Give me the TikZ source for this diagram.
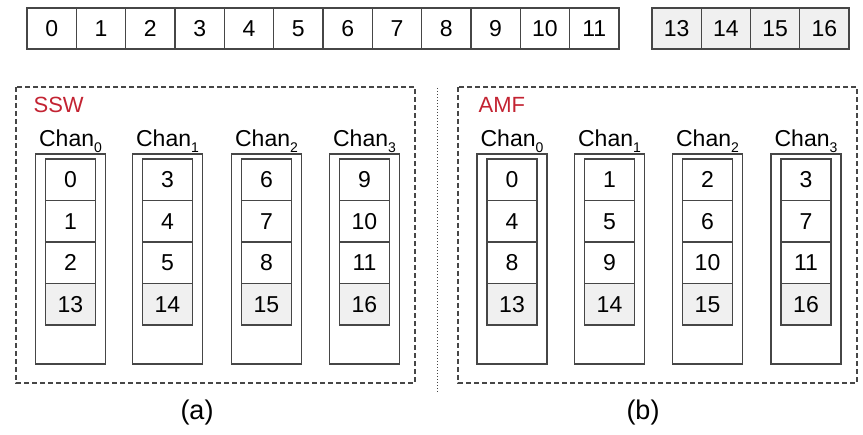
\documentclass[tikz,border=0pt]{standalone}
\usepackage{fontspec}
\setmainfont{Liberation Sans}
\definecolor{linec}{RGB}{70,70,70}
\definecolor{grayf}{RGB}{240,240,240}
\definecolor{redt}{RGB}{195,35,50}
\newcommand{\chanlbl}[1]{Chan\raisebox{-0.22em}{\fontsize{14}{14}\selectfont #1}}
\begin{document}
\begin{tikzpicture}[x=1pt,y=-1pt,line width=1.3pt,
  cell/.style={draw=linec, minimum width=49.3pt, minimum height=41pt, inner sep=0pt, font=\fontsize{23}{23}\selectfont},
  gcell/.style={cell, fill=grayf},
  ccell/.style={cell, minimum width=50pt, minimum height=41.5pt},
  gccell/.style={ccell, fill=grayf},
  outerbox/.style={draw=linec, minimum width=70pt, minimum height=210pt, inner sep=0pt},
  chantext/.style={anchor=base, inner sep=0pt, font=\fontsize{23}{23}\selectfont},
  paneltitle/.style={anchor=base west, inner sep=0pt, text=redt, font=\fontsize{22}{22}\selectfont},
  panelbox/.style={draw=linec, line width=1.1pt, dash pattern=on 5pt off 3pt},
  caption/.style={inner sep=0pt, font=\fontsize{27}{27}\selectfont}]
\useasboundingbox (0,0) rectangle (863,435);
% top row
\foreach \i in {0,...,11}{
  \node[cell] (t\i) at ({27+49.33*(\i+0.5)},28.5) {\i};
}
\foreach \i/\v in {0/13,1/14,2/15,3/16}{
  \node[gcell] (g\i) at ({652+49.25*(\i+0.5)},28.5) {\v};
}
% panels
\draw[panelbox] (16,87) rectangle (415,383);
\draw[panelbox] (458,87) rectangle (857,383);
\draw[linec, line width=1pt, dotted] (437,88) -- (437,393);
\node[paneltitle] (ssw) at (33,113) {SSW};
\node[paneltitle] (amf) at (478,113) {AMF};
% SSW channels
\foreach \k/\cx in {0/70.5,1/167.5,2/266.5,3/364.5}{
  \node[chantext] (sl\k) at (\cx,147) {\chanlbl{\k}};
  \node[outerbox] (so\k) at (\cx,259) {};
  \pgfmathtruncatemacro{\a}{3*\k}
  \pgfmathtruncatemacro{\b}{3*\k+1}
  \pgfmathtruncatemacro{\c}{3*\k+2}
  \pgfmathtruncatemacro{\d}{13+\k}
  \node[ccell] (s\k a) at (\cx,179.75) {\a};
  \node[ccell] (s\k b) at (\cx,221.25) {\b};
  \node[ccell] (s\k c) at (\cx,262.75) {\c};
  \node[gccell] (s\k d) at (\cx,304.25) {\d};
}
% AMF channels
\foreach \k/\cx in {0/512,1/609.5,2/707.5,3/806}{
  \node[chantext] (al\k) at (\cx,147) {\chanlbl{\k}};
  \node[outerbox] (ao\k) at (\cx,259) {};
  \pgfmathtruncatemacro{\a}{\k}
  \pgfmathtruncatemacro{\b}{\k+4}
  \pgfmathtruncatemacro{\c}{\k+8}
  \pgfmathtruncatemacro{\d}{13+\k}
  \node[ccell] (a\k a) at (\cx,179.75) {\a};
  \node[ccell] (a\k b) at (\cx,221.25) {\b};
  \node[ccell] (a\k c) at (\cx,262.75) {\c};
  \node[gccell] (a\k d) at (\cx,304.25) {\d};
}
\node[caption] (capa) at (197,413) {(a)};
\node[caption] (capb) at (643,413) {(b)};
\end{tikzpicture}
\end{document}
